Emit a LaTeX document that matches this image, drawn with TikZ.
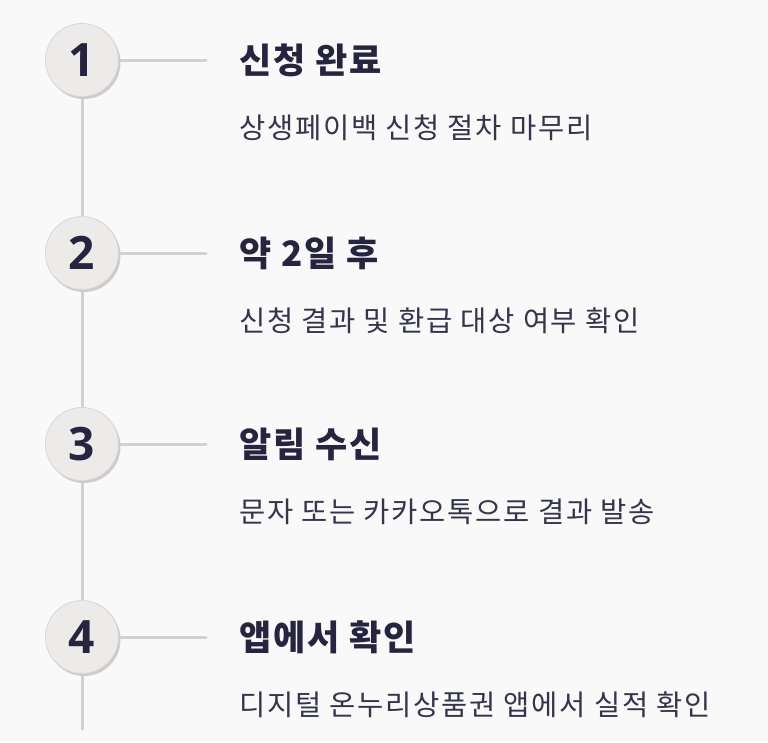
\documentclass[tikz,border=0pt]{standalone}
\usepackage{fontspec}
\setmainfont{Noto Sans CJK KR}
\newfontfamily\krtitle[LetterSpace=5]{Noto Sans CJK KR}
\newfontfamily\krsub[LetterSpace=6.2]{Noto Sans CJK KR}
\newfontfamily\numfont{Open Sans}
\definecolor{bgc}{HTML}{F9F9FA}
\definecolor{linec}{HTML}{D3D0D0}
\definecolor{circfill}{HTML}{EDEAEA}
\definecolor{circedge}{HTML}{D9D6D6}
\definecolor{shadowc}{HTML}{CFCBCB}
\definecolor{titlec}{HTML}{26243F}
\definecolor{subc}{HTML}{35344B}
\tikzset{
  numcirc/.style={circle, minimum size=73pt, inner sep=0pt, fill=circfill, draw=circedge, line width=0.8pt, text=titlec, font=\numfont\fontsize{46}{46}\selectfont\bfseries},
  shadowcirc/.style={circle, minimum size=73pt, inner sep=0pt, fill=shadowc},
  titletext/.style={anchor=base west, inner sep=0pt, text=titlec, font=\krtitle\fontsize{35}{35}\selectfont\bfseries},
  subtext/.style={anchor=base west, inner sep=0pt, text=subc, font=\krsub\fontsize{28.5}{28.5}\selectfont},
  connector/.style={draw=linec, line width=3pt, line cap=round},
}
\begin{document}
\begin{tikzpicture}[x=1pt,y=-1pt]
\fill[bgc] (0,0) rectangle (768,742);
\useasboundingbox (0,0) rectangle (768,742);
\coordinate (vend) at (82,729);
% vertical line behind circles
\draw[connector] (82,60) -- (vend);
\foreach \i/\cy/\ttl/\sub in {1/60/{신청 완료}/{상생페이백 신청 절차 마무리},
                              2/253/{약 2일 후}/{신청 결과 및 환급 대상 여부 확인},
                              3/444/{알림 수신}/{문자 또는 카카오톡으로 결과 발송},
                              4/637/{앱에서 확인}/{디지털 온누리상품권 앱에서 실적 확인}}{
  \node[shadowcirc] (s\i) at (84,\cy+2.5) {};
  \node[numcirc] (c\i) at (82,\cy) {\raisebox{-1.5pt}{\i}};
  \coordinate (h\i) at (206,\cy);
  \draw[connector] (c\i.east) -- (h\i);
  \node[titletext] (t\i) at (239,\cy+13) {\ttl};
  \node[subtext] (d\i) at (239,\cy+78) {\sub};
}
\end{tikzpicture}
\end{document}
